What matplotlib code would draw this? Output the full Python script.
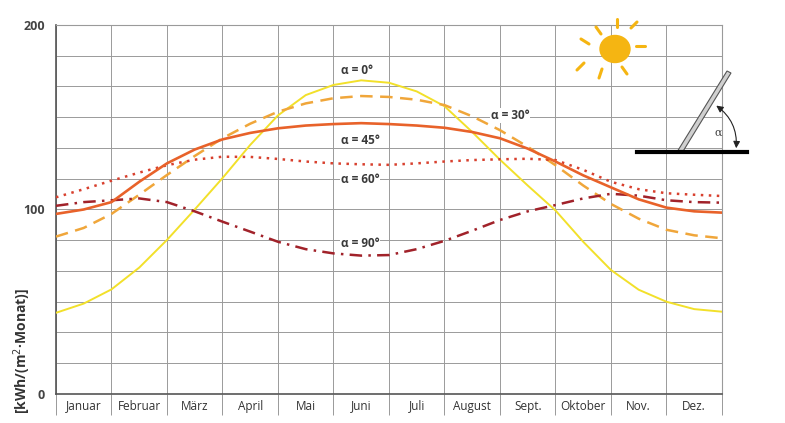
import numpy as np
import matplotlib
matplotlib.use('Agg')
import matplotlib.pyplot as plt
from matplotlib.patches import Ellipse, Polygon, FancyArrowPatch

plt.rcParams['font.family'] = ['Open Sans', 'DejaVu Sans']

# ========== data (every half month) ==========
months = ['Januar', 'Februar', 'März', 'April', 'Mai', 'Juni', 'Juli',
          'August', 'Sept.', 'Oktober', 'Nov.', 'Dez.']
x_pos = [0, 0.5, 1, 1.5, 2, 2.5, 3, 3.5, 4, 4.5, 5, 5.5, 6,
         6.5, 7, 7.5, 8, 8.5, 9, 9.5, 10, 10.5, 11, 11.5, 12]

alpha_0 = [44, 49, 56.7, 68.5, 83.5, 100, 117, 135, 151, 162, 167.5, 170, 168.7,
           164, 156, 142, 127, 113, 99.5, 82.5, 67.2, 56.5, 50, 46, 44.6]
alpha_30 = [85.3, 90, 97.6, 108, 118.7, 129, 138.6, 146.5, 153, 157.5, 160.3, 161.5, 161,
            159.5, 156.6, 150.5, 143, 134, 124, 113, 103, 95, 89, 86, 84.4]
alpha_45 = [97.6, 100, 104, 115, 125, 132.5, 138, 141.5, 144, 145.5, 146.3, 146.8, 146.3,
            145.5, 144.3, 142, 138.6, 133, 126, 118.5, 112, 105.5, 101, 99, 98.3]
alpha_60 = [106.6, 111, 115.6, 120, 124, 127, 128.6, 128.5, 127.4, 126, 125, 124.5, 124.2,
            125, 126, 126.8, 127.2, 127.5, 126.8, 121.5, 115, 111, 108.8, 108, 107.3]
alpha_90 = [102, 104, 105, 106, 104, 99, 93.4, 88, 82.5, 78.5, 76.2, 75, 75.3,
            78.5, 83, 88.5, 94.3, 99, 102.4, 106, 108.5, 107.5, 105, 104, 103.7]

curve_labels = ['α = 0°', 'α = 30°', 'α = 45°', 'α = 60°', 'α = 90°']
label_x = [5.42, 8.18, 5.48, 5.48, 5.48]
label_y = [175.5, 151, 137.5, 116, 81.5]

# ========== figure ==========
fig = plt.figure(figsize=(7.85, 4.23), dpi=100)
ax = fig.add_axes([0.0713, 0.0686, 0.8484, 0.8723])

ax.plot(x_pos, alpha_0, color='#F2E02A', lw=1.4, zorder=3)
ax.plot(x_pos, alpha_30, color='#F0A63A', lw=1.8, ls=(0, (5, 3)), zorder=3)
ax.plot(x_pos, alpha_45, color='#E8622A', lw=1.9, zorder=4)
ax.plot(x_pos, alpha_60, color='#D8402E', lw=1.8, ls=(0, (1, 2.2)), zorder=3)
ax.plot(x_pos, alpha_90, color='#A1222A', lw=1.8, ls=(0, (5, 2.5, 1, 2.5)), zorder=3)

for t, lx, ly in zip(curve_labels, label_x, label_y):
    ax.text(lx, ly, t, ha='center', va='center', fontsize=8.5, fontweight='bold',
            color='#3a3a3a', zorder=5,
            bbox=dict(facecolor='white', edgecolor='none', pad=0.5))

ax.set_xlim(0, 12)
ax.set_ylim(0, 200)

ax.set_xticks(range(13))
ax.set_xticklabels([])
ax.set_xticks([m + 0.5 for m in range(12)], minor=True)
ax.set_xticklabels(months, minor=True, fontsize=8.5, color='#333333')
ax.tick_params(axis='x', which='major', direction='out', length=15, width=0.7,
               color='#999999')
ax.tick_params(axis='x', which='minor', length=0, pad=4)

ax.set_yticks(np.linspace(0, 200, 13))
ax.set_yticklabels(['0' if v == 0 else ('100' if v == 6 else ('200' if v == 12 else ''))
                    for v in range(13)], fontsize=9, fontweight='bold', color='#444444')
ax.tick_params(axis='y', length=0, pad=8)

ax.grid(True, which='major', color='#9a9a9a', lw=0.7)
for side in ['top', 'right']:
    ax.spines[side].set_color('#9a9a9a')
    ax.spines[side].set_linewidth(0.8)
for side in ['left', 'bottom']:
    ax.spines[side].set_color('#555555')
    ax.spines[side].set_linewidth(1.2)

fig.text(0.028, 0.17, '[kWh/(m$^2$·Monat)]', rotation=90, ha='center', va='center',
         fontsize=10, fontweight='bold', color='#333333')

# ========== sun and tilted panel sketch (pixel overlay) ==========
ov = fig.add_axes([0, 0, 1, 1], zorder=10)
ov.set_xlim(0, 785)
ov.set_ylim(423, 0)
ov.axis('off')
ov.patch.set_alpha(0)

sun = '#F5B512'
ov.add_patch(Ellipse((615, 49), 30, 27, color=sun))
rays = [((596, 27), (601, 34)), ((617, 19), (617, 27)), ((631, 28), (637, 22)),
        ((636, 46), (645, 46)), ((622, 67), (627, 74)), ((602, 69), (599, 78)),
        ((584, 63), (577, 70)), ((581, 39), (589, 44))]
for (x0, y0), (x1, y1) in rays:
    ov.plot([x0, x1], [y0, y1], color=sun, lw=2.2, solid_capstyle='round')

ov.plot([637, 747], [152.5, 152.5], color='black', lw=3)
panel = Polygon([(677, 152), (682, 153), (731, 73), (727, 71)], closed=True,
                facecolor='#d0d0d0', edgecolor='#555555', lw=0.8)
ov.add_patch(panel)
ov.add_patch(FancyArrowPatch((736, 151), (714, 104), connectionstyle='arc3,rad=0.3',
                             arrowstyle='<|-|>,head_length=4,head_width=2',
                             color='#222222', lw=0.8))
ov.text(718, 133, 'α', ha='center', va='center', fontsize=8, color='#444444',
        family='DejaVu Serif')

fig.savefig('out.png', dpi=100)
